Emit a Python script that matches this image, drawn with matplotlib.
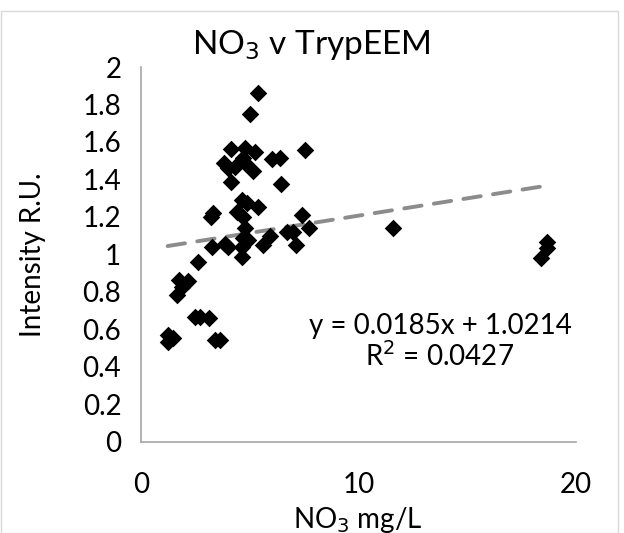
import matplotlib
matplotlib.use("Agg")
import matplotlib.pyplot as plt
from matplotlib.patches import Rectangle
import numpy as np

plt.rcParams['font.family'] = ['Lato', 'DejaVu Sans']

# Data
no3 = [1.24, 1.50, 1.27, 3.42, 3.65, 2.50, 2.73, 3.14, 1.65, 1.88, 1.76, 2.19,
       2.62, 3.26, 3.88, 4.03, 4.64, 4.64, 4.72, 4.95, 4.80, 5.61, 5.94, 6.71,
       6.99, 7.14, 7.71, 7.40, 3.30, 3.24, 4.41, 4.72, 4.64, 4.87, 5.41, 6.44,
       4.14, 5.18, 4.03, 4.34, 3.83, 4.80, 4.72, 6.02, 6.40, 4.14, 4.80, 5.26,
       7.56, 5.03, 5.41, 11.59, 18.69, 18.67, 18.39]
tryp = [0.570, 0.552, 0.531, 0.543, 0.543, 0.667, 0.667, 0.659, 0.783, 0.828,
        0.863, 0.858, 0.958, 1.041, 1.056, 1.040, 0.988, 1.041, 1.086, 1.077,
        1.139, 1.050, 1.100, 1.121, 1.121, 1.050, 1.139, 1.210, 1.219, 1.198,
        1.228, 1.201, 1.290, 1.272, 1.255, 1.374, 1.388, 1.447, 1.460, 1.468,
        1.486, 1.486, 1.513, 1.508, 1.513, 1.561, 1.566, 1.548, 1.557, 1.750,
        1.863, 1.139, 1.068, 1.033, 0.979]
trend_slope = 0.0185
trend_intercept = 1.0214
trend_r2 = 0.0427
x_ticks = [0, 10, 20]
y_ticks = [0, 0.2, 0.4, 0.6, 0.8, 1, 1.2, 1.4, 1.6, 1.8, 2]
y_tick_labels = ['0', '0.2', '0.4', '0.6', '0.8', '1', '1.2', '1.4', '1.6', '1.8', '2']

fig = plt.figure(figsize=(6.24, 5.33), dpi=100)
fig.patches.append(Rectangle((0.5 / 624, 0), 617.5 / 624, 1 - 11 / 533,
                             transform=fig.transFigure, fill=False,
                             edgecolor='#d9d9d9', linewidth=1))
ax = fig.add_axes([140.7 / 624, 1 - 441.7 / 533, (576 - 140.7) / 624, (441.7 - 67) / 533])

ax.scatter(no3, tryp, marker='D', s=80, color='black', zorder=3, linewidths=0)

xs = np.array([min(no3), max(no3)])
ax.plot(xs, trend_slope * xs + trend_intercept, color='#8c8c8c', lw=2.8,
        dashes=[4.5, 3.2], dash_capstyle='round', zorder=2)

ax.set_xlim(0, 20)
ax.set_ylim(0, 2)
ax.set_xticks(x_ticks)
ax.set_yticks(y_ticks)
ax.set_yticklabels(y_tick_labels)
ax.tick_params(length=0, labelsize=20, colors='black', pad=14)
ax.tick_params(axis='x', pad=22)
for s in ['top', 'right']:
    ax.spines[s].set_visible(False)
for s in ['left', 'bottom']:
    ax.spines[s].set_color('#a6a6a6')
    ax.spines[s].set_linewidth(1.2)

fig.text(311.5 / 624, 1 - 45 / 533, 'NO$_3$ v TrypEEM', ha='center', va='center', fontsize=24)
fig.text(358 / 624, 1 - 520 / 533, 'NO$_3$ mg/L', ha='center', va='center', fontsize=20)
fig.text(33 / 624, 1 - 255 / 533, 'Intensity R.U.', ha='center', va='center', fontsize=20, rotation=90)

fig.text(440 / 624, 1 - 326 / 533, f'y = {trend_slope}x + {trend_intercept}', ha='center', va='center', fontsize=20)
fig.text(440 / 624, 1 - 356 / 533, f'R$^2$ = {trend_r2}', ha='center', va='center', fontsize=20)

fig.savefig('out.png', dpi=100)
